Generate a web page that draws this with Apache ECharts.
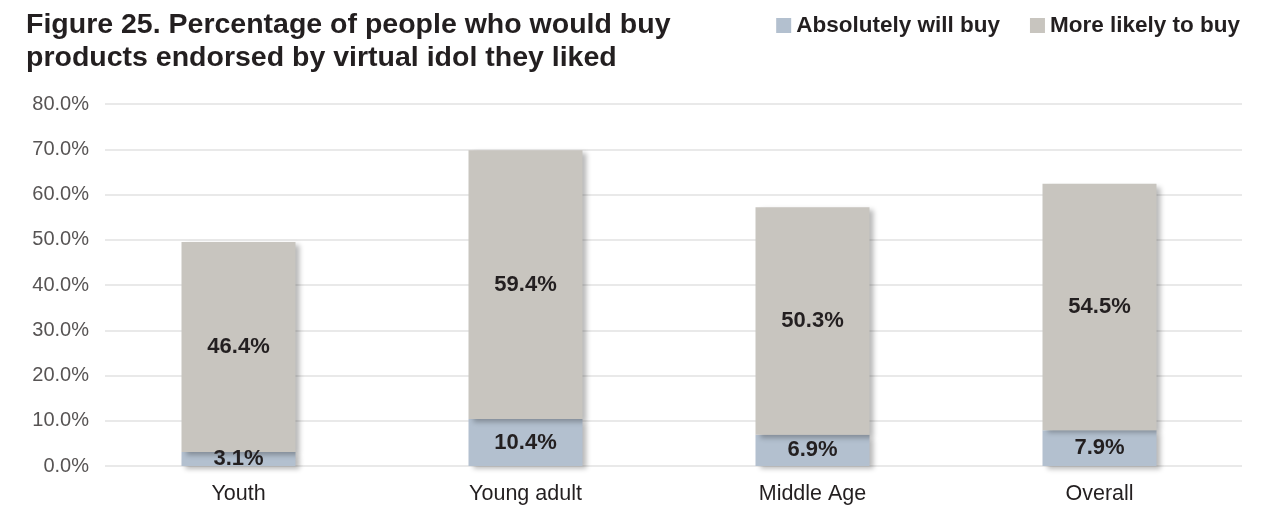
<!DOCTYPE html>
<html>
<head>
<meta charset="utf-8">
<style>
  html, body { margin: 0; padding: 0; background: #ffffff; }
  #chart { width: 1278px; height: 509px; }
</style>
<script src="https://cdn.jsdelivr.net/npm/echarts@6/dist/echarts.min.js"></script>
</head>
<body>
<div id="chart"></div>
<script>
// Categories and series values (percent)
const categories = ['Youth', 'Young adult', 'Middle Age', 'Overall'];
const absolutelyWillBuy = [3.1, 10.4, 6.9, 7.9];
const moreLikelyToBuy = [46.4, 59.4, 50.3, 54.5];
const seriesNames = ['Absolutely will buy', 'More likely to buy'];
const titleLines = ['Figure 25. Percentage of people who would buy', 'products endorsed by virtual idol they liked'];

const FONT = '"Liberation Sans", Arial, Helvetica, sans-serif';
const TEXT = '#231f20';
const COLORS = ['#b3c0cf', '#c8c5bf'];

const chart = echarts.init(document.getElementById('chart'), null, { renderer: 'canvas' });

const yScale = { type: 'value', min: 0, max: 80, interval: 10 };

const barShadow = {
  shadowColor: 'rgba(0,0,0,0.28)',
  shadowBlur: 5,
  shadowOffsetX: 4,
  shadowOffsetY: 3
};

const valueLabel = {
  show: true,
  position: 'inside',
  fontFamily: FONT,
  fontSize: 22,
  fontWeight: 'bold',
  color: TEXT,
  formatter: p => p.value.toFixed(1) + '%'
};

chart.setOption({
  animation: false,
  textStyle: { fontFamily: FONT },
  title: {
    text: titleLines.join('\n'),
    left: 21,
    top: 4,
    textStyle: { fontFamily: FONT, fontSize: 28.5, fontWeight: 'bold', color: TEXT, lineHeight: 33 }
  },
  legend: {
    data: seriesNames,
    right: 33,
    top: 9,
    itemWidth: 15,
    itemHeight: 15,
    itemGap: 30,
    icon: 'rect',
    textStyle: { fontFamily: FONT, fontSize: 22.5, fontWeight: 'bold', color: TEXT }
  },
  grid: [
    // gridline / value axis layer
    { left: 105, right: 36, top: 104, bottom: 43 },
    // bar layer
    { left: 95, right: 35, top: 104, bottom: 43 }
  ],
  xAxis: [
    { gridIndex: 0, type: 'category', data: categories, show: false },
    {
      gridIndex: 1, type: 'category', data: categories,
      axisLine: { show: false }, axisTick: { show: false },
      axisLabel: { fontFamily: FONT, fontSize: 21.5, color: TEXT, margin: 17 }
    }
  ],
  yAxis: [
    Object.assign({
      gridIndex: 0,
      axisLine: { show: false }, axisTick: { show: false },
      axisLabel: { fontFamily: FONT, fontSize: 20, color: '#575454', margin: 16, formatter: v => v.toFixed(1) + '%' },
      splitLine: { lineStyle: { color: '#e2e2e2', width: 1.5 } }
    }, yScale),
    Object.assign({ gridIndex: 1, show: false, splitLine: { show: false } }, yScale)
  ],
  series: [
    {
      name: seriesNames[0], type: 'bar', stack: 'total',
      xAxisIndex: 1, yAxisIndex: 1,
      barWidth: 114,
      data: absolutelyWillBuy,
      itemStyle: Object.assign({ color: COLORS[0] }, barShadow),
      label: valueLabel
    },
    {
      name: seriesNames[1], type: 'bar', stack: 'total',
      xAxisIndex: 1, yAxisIndex: 1,
      barWidth: 114,
      data: moreLikelyToBuy,
      itemStyle: Object.assign({ color: COLORS[1] }, barShadow),
      label: valueLabel
    }
  ]
});
</script>
</body>
</html>
